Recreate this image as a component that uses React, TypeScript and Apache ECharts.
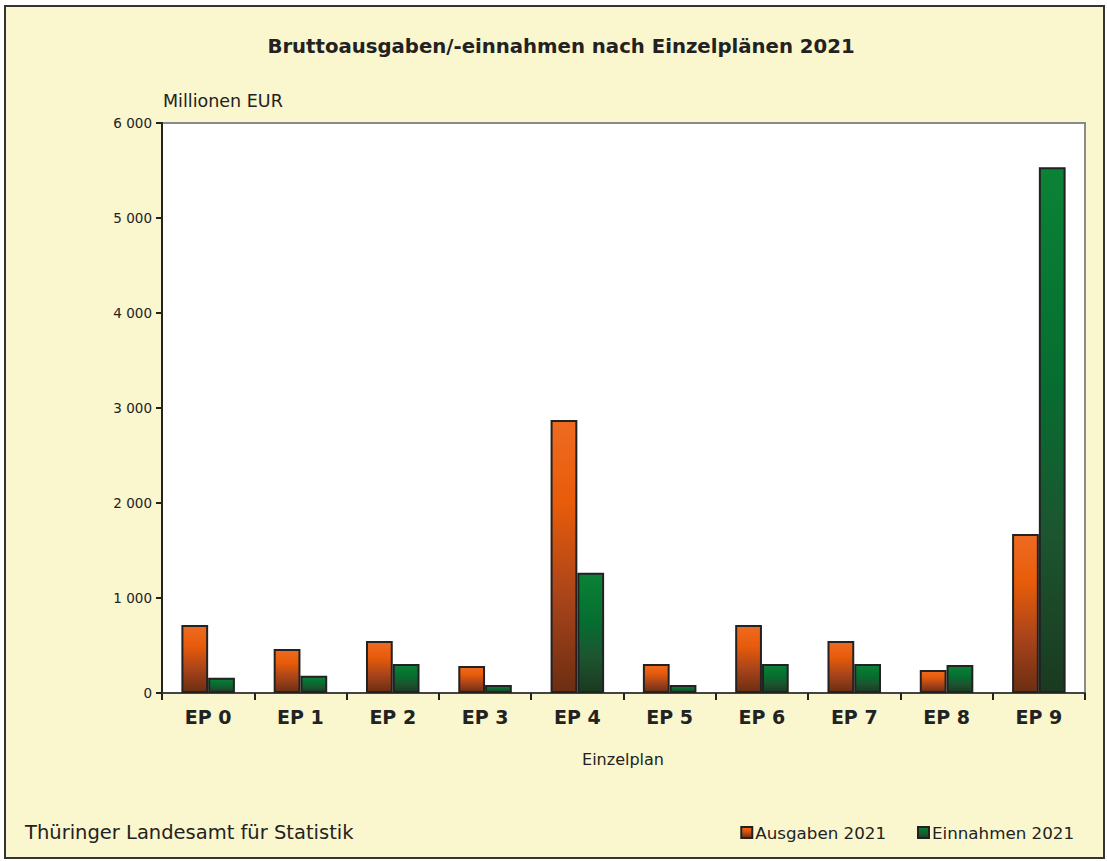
import React, { useEffect, useRef } from "react";
import * as echarts from "echarts";

const categories = ["EP 0", "EP 1", "EP 2", "EP 3", "EP 4", "EP 5", "EP 6", "EP 7", "EP 8", "EP 9"];
const ausgaben2021 = [716, 463, 547, 284, 2874, 305, 716, 547, 242, 1674];
const einnahmen2021 = [161, 182, 305, 84, 1266, 84, 305, 305, 295, 5534];
const yTicks = [0, 1000, 2000, 3000, 4000, 5000, 6000];

const FONT = "DejaVu Sans";

export default function App() {
  const ref = useRef<HTMLDivElement>(null);
  useEffect(() => {
    if (!ref.current) return;
    const chart = echarts.init(ref.current, null, { renderer: "svg" });
    const orange = new echarts.graphic.LinearGradient(0, 0, 0, 1, [
      { offset: 0, color: "#EE6B22" },
      { offset: 0.3, color: "#E85C0A" },
      { offset: 0.65, color: "#A9441A" },
      { offset: 1, color: "#6C2E12" },
    ]);
    const green = new echarts.graphic.LinearGradient(0, 0, 0, 1, [
      { offset: 0, color: "#0B8236" },
      { offset: 0.4, color: "#066E31" },
      { offset: 0.7, color: "#1C5530" },
      { offset: 1, color: "#1A3A1F" },
    ]);
    chart.setOption({
      animation: false,
      backgroundColor: "#ffffff",
      textStyle: { fontFamily: FONT },
      graphic: [
        {
          type: "rect",
          z: -10,
          shape: { x: 5, y: 6, width: 1099, height: 852 },
          style: { fill: "#FAF6CD", stroke: "#333333", lineWidth: 2 },
        },
        {
          type: "text",
          x: 561,
          y: 46,
          style: {
            text: "Bruttoausgaben/-einnahmen nach Einzelplänen 2021",
            fontFamily: FONT,
            fontSize: 19.7,
            fontWeight: "bold",
            fill: "#222222",
            textAlign: "center",
            textVerticalAlign: "middle",
          },
        },
        {
          type: "text",
          x: 163,
          y: 101,
          style: {
            text: "Millionen EUR",
            fontFamily: FONT,
            fontSize: 17.5,
            fill: "#222222",
            textAlign: "left",
            textVerticalAlign: "middle",
          },
        },
        {
          type: "text",
          x: 623,
          y: 759,
          style: {
            text: "Einzelplan",
            fontFamily: FONT,
            fontSize: 16,
            fill: "#222222",
            textAlign: "center",
            textVerticalAlign: "middle",
          },
        },
        {
          type: "text",
          x: 25,
          y: 832,
          style: {
            text: "Thüringer Landesamt für Statistik",
            fontFamily: FONT,
            fontSize: 19.5,
            fill: "#222222",
            textAlign: "left",
            textVerticalAlign: "middle",
          },
        },
      ],
      legend: {
        right: 28,
        top: 819,
        itemWidth: 11,
        itemHeight: 11,
        itemGap: 31,
        icon: "rect",
        textStyle: { fontFamily: FONT, fontSize: 16.7, color: "#222222", padding: [0, 0, 0, -2] },
        data: ["Ausgaben 2021", "Einnahmen 2021"],
      },
      grid: {
        left: 162,
        right: 22,
        top: 123,
        bottom: 168,
        show: true,
        backgroundColor: "#ffffff",
        borderColor: "#8a8a8a",
        borderWidth: 2,
      },
      xAxis: {
        type: "category",
        data: categories,
        axisLine: { lineStyle: { color: "#444444", width: 2 } },
        axisTick: { show: true, length: 7, lineStyle: { color: "#222222", width: 2 } },
        axisLabel: {
          fontFamily: FONT,
          fontSize: 19,
          fontWeight: "bold",
          color: "#222222",
          margin: 14,
        },
      },
      yAxis: {
        type: "value",
        min: 0,
        max: 6000,
        interval: 1000,
        splitLine: { show: false },
        axisLine: { show: true, lineStyle: { color: "#222222", width: 2 } },
        axisTick: { show: true, length: 6, lineStyle: { color: "#222222", width: 2 } },
        axisLabel: {
          fontFamily: FONT,
          fontSize: 13.5,
          color: "#222222",
          margin: 10,
          formatter: (v: number) =>
            yTicks.includes(v) ? String(v).replace(/\B(?=(\d{3})+(?!\d))/g, " ") : "",
        },
      },
      series: [
        {
          name: "Ausgaben 2021",
          type: "bar",
          data: ausgaben2021,
          barGap: "0%",
          barCategoryGap: "42%",
          itemStyle: { color: orange, borderColor: "#222222", borderWidth: 2 },
        },
        {
          name: "Einnahmen 2021",
          type: "bar",
          data: einnahmen2021,
          barGap: "0%",
          barCategoryGap: "42%",
          itemStyle: { color: green, borderColor: "#222222", borderWidth: 2 },
        },
      ],
    });
    return () => chart.dispose();
  }, []);
  return (
    <div
      ref={ref}
      style={{ position: "fixed", left: 0, top: 0, width: 1107, height: 861 }}
    />
  );
}
